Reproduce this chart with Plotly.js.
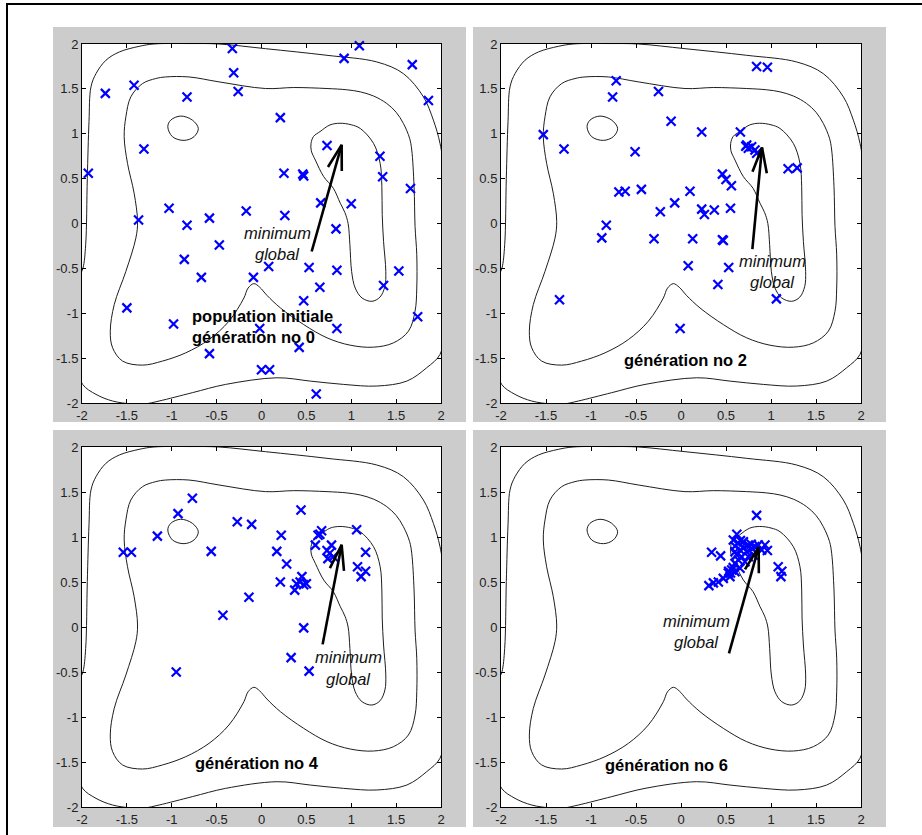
<!DOCTYPE html>
<html><head><meta charset="utf-8">
<script src="https://cdn.plot.ly/plotly-3.0.1.min.js"></script>
<style>html,body{margin:0;padding:0;background:#fff}#chart{width:922px;height:835px}</style>
</head><body><div id="chart"></div>
<script>
// ---- tick labels ----
const tickVals = [-2,-1.5,-1,-0.5,0,0.5,1,1.5,2];
const tickText = ["-2","-1.5","-1","-0.5","0","0.5","1","1.5","2"];

// ---- contour lines (same in every panel) ----
const contourAx = [-1.044,-1.011,-0.9,-0.77,-0.704,-0.752,-0.863,-0.992,-1.044];
const contourAy = [1.078,1.152,1.197,1.152,1.059,0.967,0.926,0.967,1.078];

const contourBx = [0.552,0.58,0.652,0.763,0.874,1.0,1.1,1.248,1.322,1.341,1.345,1.36,1.385,1.375,1.32,1.23,1.12,1.044,1.004,0.985,0.965,0.93,0.878,0.8,0.693,0.6,0.555,0.552];
const contourBy = [0.893,0.97,1.024,1.098,1.117,1.1,1.059,0.893,0.670,0.411,0.1,-0.2,-0.533,-0.7,-0.82,-0.867,-0.83,-0.719,-0.534,-0.237,0.0,0.12,0.226,0.393,0.522,0.707,0.81,0.893];

const contourCx = [-1.326,-1.178,-1.067,-0.808,-0.474,0.044,0.359,0.73,0.95,1.1,1.25,1.396,1.5,1.581,1.65,1.674,1.7,1.711,1.73,1.73,1.711,1.637,1.47,1.248,0.989,0.73,0.47,0.211,0.06,-0.02,-0.085,-0.15,-0.196,-0.363,-0.585,-0.844,-1.104,-1.326,-1.548,-1.659,-1.685,-1.641,-1.511,-1.4,-1.381,-1.419,-1.493,-1.53,-1.511,-1.456,-1.326];
const contourCy = [1.559,1.615,1.633,1.633,1.578,1.504,1.515,1.504,1.49,1.467,1.42,1.337,1.24,1.115,0.95,0.819,0.411,-0.033,-0.348,-0.719,-0.978,-1.2,-1.33,-1.378,-1.356,-1.274,-1.126,-0.941,-0.8,-0.71,-0.67,-0.72,-0.83,-1.089,-1.293,-1.441,-1.533,-1.578,-1.533,-1.385,-1.2,-0.904,-0.533,-0.163,0.022,0.337,0.670,0.967,1.189,1.411,1.559];

const contourDx = [-2.06,-2.03,-1.989,-1.959,-1.941,-1.922,-1.9,-1.844,-1.733,-1.585,-1.363,-1.2,-0.8,-0.474,0.044,0.73,1.285,1.581,1.804,1.915,1.989,2.03,2.05,2.04,1.989,1.841,1.619,1.285,0.915,0.544,0.174,-0.4,-0.77,-1.141,-1.3,-1.45,-1.659,-1.844,-1.993,-2.05,-2.06];
const contourDy = [-1.0,-0.6,-0.497,-0.237,0.504,1.135,1.522,1.67,1.819,1.911,1.974,2.0,2.005,2.0,1.948,1.874,1.8,1.67,1.411,1.152,0.893,0.6,-0.5,-1.2,-1.459,-1.607,-1.756,-1.811,-1.793,-1.756,-1.719,-1.793,-1.885,-1.978,-2.01,-2.01,-1.978,-1.904,-1.793,-1.6,-1.0];

// ---- population points per generation ----
const gen0x = [-0.325,1.09,-0.31,0.92,1.68,-1.74,-1.42,-0.83,-0.26,1.86,0.21,0.73,-1.31,-1.93,0.25,0.46,0.47,1.32,1.35,1.66,-1.03,-1.37,-0.83,-0.58,-0.17,0.26,0.66,1.0,0.83,-0.47,-0.86,-0.67,-0.09,0.08,0.53,0.84,0.65,1.36,1.53,0.47,-1.5,-0.98,1.74,-0.02,0.84,0.42,-0.58,0.0,0.09,0.61];
const gen0y = [1.95,1.98,1.68,1.84,1.77,1.45,1.54,1.41,1.47,1.37,1.18,0.87,0.83,0.56,0.56,0.55,0.53,0.75,0.52,0.39,0.17,0.04,-0.02,0.06,0.14,0.09,0.23,0.22,-0.06,-0.24,-0.4,-0.6,-0.6,-0.48,-0.49,-0.52,-0.71,-0.69,-0.53,-0.86,-0.94,-1.12,-1.04,-1.17,-1.17,-1.38,-1.45,-1.63,-1.63,-1.9];

const gen2x = [0.84,0.96,-0.72,-0.76,-0.25,-0.11,-1.53,-1.3,0.23,0.66,-0.51,0.73,0.748,0.785,0.822,0.841,0.72,1.19,1.29,0.46,0.5,0.56,-0.69,-0.62,-0.44,0.1,-0.07,-0.23,0.23,0.26,0.37,0.55,-0.83,-0.88,-0.3,0.13,0.46,0.47,0.08,0.53,0.41,1.06,-1.35,-0.01];
const gen2y = [1.75,1.74,1.59,1.41,1.47,1.14,0.99,0.83,1.02,1.02,0.8,0.875,0.838,0.856,0.819,0.782,0.86,0.61,0.62,0.55,0.49,0.42,0.35,0.36,0.38,0.36,0.23,0.13,0.16,0.1,0.15,0.17,-0.02,-0.16,-0.17,-0.17,-0.18,-0.19,-0.47,-0.49,-0.68,-0.84,-0.85,-1.17];

const gen4x = [-0.77,-0.93,0.44,-0.27,-0.11,-1.16,0.22,-1.54,-1.45,-0.56,0.17,0.28,0.21,0.37,0.39,0.45,0.47,0.5,0.43,-0.14,-0.43,0.47,0.33,0.53,-0.95,0.63,0.67,0.6,0.73,0.76,0.78,0.74,0.8,1.06,1.16,1.07,1.11,1.16,0.65];
const gen4y = [1.43,1.26,1.3,1.17,1.14,1.01,1.02,0.83,0.83,0.84,0.84,0.7,0.5,0.41,0.48,0.56,0.47,0.48,0.5,0.33,0.13,-0.01,-0.34,-0.49,-0.5,1.02,1.07,0.91,0.85,0.82,0.91,0.76,0.78,1.08,0.83,0.67,0.56,0.62,1.03];

const gen6x = [0.84,0.34,0.44,0.31,0.36,0.415,0.47,0.53,0.544,0.526,0.563,0.6,0.656,1.08,1.12,1.11,0.96,0.933,0.896,0.62,0.581,0.637,0.693,0.748,0.656,0.73,0.785,0.822,0.859,0.674,0.748,0.804,0.637,0.711,0.6,0.6,0.6,0.62,0.7,0.78,0.66,0.58,0.55];
const gen6y = [1.24,0.83,0.79,0.46,0.49,0.5,0.54,0.62,0.56,0.6,0.633,0.615,0.652,0.67,0.62,0.56,0.85,0.911,0.856,1.03,0.967,0.93,0.948,0.911,0.856,0.837,0.874,0.893,0.911,0.781,0.781,0.8,0.744,0.726,0.707,0.837,0.9,0.8,0.88,0.92,0.96,0.66,0.6];

// ---- annotations ----
const panelText = [["population initiale","génération no 0"],["génération no 2"],["génération no 4"],["génération no 6"]];
const panelTextX = [-0.80,-0.656,-0.76,-0.867];
const panelTextY = [-1.035,-1.525,-1.51,-1.536];
const labelLines = ["minimum","global"];
const labelX = [0.18,1.02,0.965,0.17];
const labelY = [-0.108,-0.416,-0.338,0.071];
const arrowTailX = [0.559,0.793,0.681,0.533];
const arrowTailY = [-0.312,-0.286,-0.193,-0.293];
const arrowHeadX = [0.893,0.9,0.893,0.863];
const arrowHeadY = [0.876,0.846,0.913,0.887];

const genX = [gen0x,gen2x,gen4x,gen6x];
const genY = [gen0y,gen2y,gen4y,gen6y];

const FONT = "Liberation Sans, Arial, Helvetica, sans-serif";
const W = 922, H = 835;
const px = v => v / W, py = v => 1 - v / H;

const suffix = ['', '2', '3', '4'];
const traces = [];
const annotations = [];
const contours = [[contourAx,contourAy],[contourBx,contourBy],[contourCx,contourCy],[contourDx,contourDy]];

for (let i = 0; i < 4; i++) {
  const xa = 'x' + suffix[i], ya = 'y' + suffix[i];
  contours.forEach(c => traces.push({
    x: c[0], y: c[1], xaxis: xa, yaxis: ya, mode: 'lines', type: 'scatter',
    line: {color: '#1e1e1e', width: 1, shape: 'spline', smoothing: 1},
    hoverinfo: 'skip', showlegend: false
  }));
  traces.push({
    x: genX[i], y: genY[i], xaxis: xa, yaxis: ya, mode: 'markers', type: 'scatter',
    cliponaxis: false,
    marker: {symbol: 'x-thin', size: 9, color: '#0000ff', line: {color: '#0000ff', width: 2.2}},
    showlegend: false
  });
  // arrow: shaft + two barbs
  const hx = arrowHeadX[i], hy = arrowHeadY[i];
  const dx = arrowTailX[i] - hx, dy = arrowTailY[i] - hy;
  const len = Math.hypot(dx, dy), ux = dx / len, uy = dy / len;
  const L = 0.29, a = 16 * Math.PI / 180;
  const b1x = hx + L * (ux * Math.cos(a) - uy * Math.sin(a));
  const b1y = hy + L * (ux * Math.sin(a) + uy * Math.cos(a));
  const b2x = hx + L * (ux * Math.cos(-a) - uy * Math.sin(-a));
  const b2y = hy + L * (ux * Math.sin(-a) + uy * Math.cos(-a));
  traces.push({
    x: [arrowTailX[i], hx, null, b1x, hx, b2x],
    y: [arrowTailY[i], hy, null, b1y, hy, b2y],
    xaxis: xa, yaxis: ya, mode: 'lines', type: 'scatter',
    line: {color: '#000', width: 2.6}, hoverinfo: 'skip', showlegend: false
  });
  // bold panel text
  panelText[i].forEach((t, k) => annotations.push({
    xref: xa, yref: ya, x: panelTextX[i], y: panelTextY[i] - k * 0.23,
    xanchor: 'left', yanchor: 'middle', showarrow: false,
    text: '<b>' + t + '</b>', font: {family: FONT, size: 16.5, color: '#000'}
  }));
  // italic label
  labelLines.forEach((t, k) => annotations.push({
    xref: xa, yref: ya, x: labelX[i], y: labelY[i] - k * 0.235,
    xanchor: 'center', yanchor: 'middle', showarrow: false,
    text: '<i>' + t + '</i>', font: {family: FONT, size: 16.5, color: '#111'}
  }));
}

const axBase = {
  range: [-2, 2], tickmode: 'array', tickvals: tickVals, ticktext: tickText,
  ticks: 'inside', ticklen: 4, tickwidth: 1, tickcolor: '#000',
  showline: true, linecolor: '#000', linewidth: 1, mirror: 'ticks',
  showgrid: false, zeroline: false, fixedrange: true,
  tickfont: {family: FONT, size: 13, color: '#222'}
};
const xdA = [px(82), px(441)], xdB = [px(501), px(861)];
const ydT = [py(403), py(44)], ydB = [py(807), py(447)];
const layout = {
  width: W, height: H, margin: {l: 0, r: 0, t: 0, b: 0},
  paper_bgcolor: '#fff', plot_bgcolor: 'rgba(0,0,0,0)', showlegend: false,
  xaxis:  Object.assign({}, axBase, {domain: xdA, anchor: 'y'}),
  yaxis:  Object.assign({}, axBase, {domain: ydT, anchor: 'x'}),
  xaxis2: Object.assign({}, axBase, {domain: xdB, anchor: 'y2'}),
  yaxis2: Object.assign({}, axBase, {domain: ydT, anchor: 'x2'}),
  xaxis3: Object.assign({}, axBase, {domain: xdA, anchor: 'y3'}),
  yaxis3: Object.assign({}, axBase, {domain: ydB, anchor: 'x3'}),
  xaxis4: Object.assign({}, axBase, {domain: xdB, anchor: 'y4'}),
  yaxis4: Object.assign({}, axBase, {domain: ydB, anchor: 'x4'}),
  annotations: annotations,
  shapes: []
};
const grayPanels = [[53,466,27,422],[473,886,27,422],[53,466,430,827],[473,886,430,827]];
const plotAreas = [[82,441,44,403],[501,861,44,403],[82,441,447,807],[501,861,447,807]];
layout.shapes.push({type:'rect', xref:'paper', yref:'paper', x0:px(7), x1:px(940), y0:py(4), y1:py(850),
  line:{color:'#000', width:2}, fillcolor:'rgba(0,0,0,0)', layer:'below'});
grayPanels.forEach(g => layout.shapes.push({type:'rect', xref:'paper', yref:'paper',
  x0:px(g[0]), x1:px(g[1]), y0:py(g[3]), y1:py(g[2]), line:{width:0}, fillcolor:'#cccccc', layer:'below'}));
plotAreas.forEach(g => layout.shapes.push({type:'rect', xref:'paper', yref:'paper',
  x0:px(g[0]), x1:px(g[1]), y0:py(g[3]), y1:py(g[2]), line:{width:0}, fillcolor:'#ffffff', layer:'below'}));

Plotly.newPlot('chart', traces, layout, {staticPlot: true, displayModeBar: false});
</script>
</body></html>
